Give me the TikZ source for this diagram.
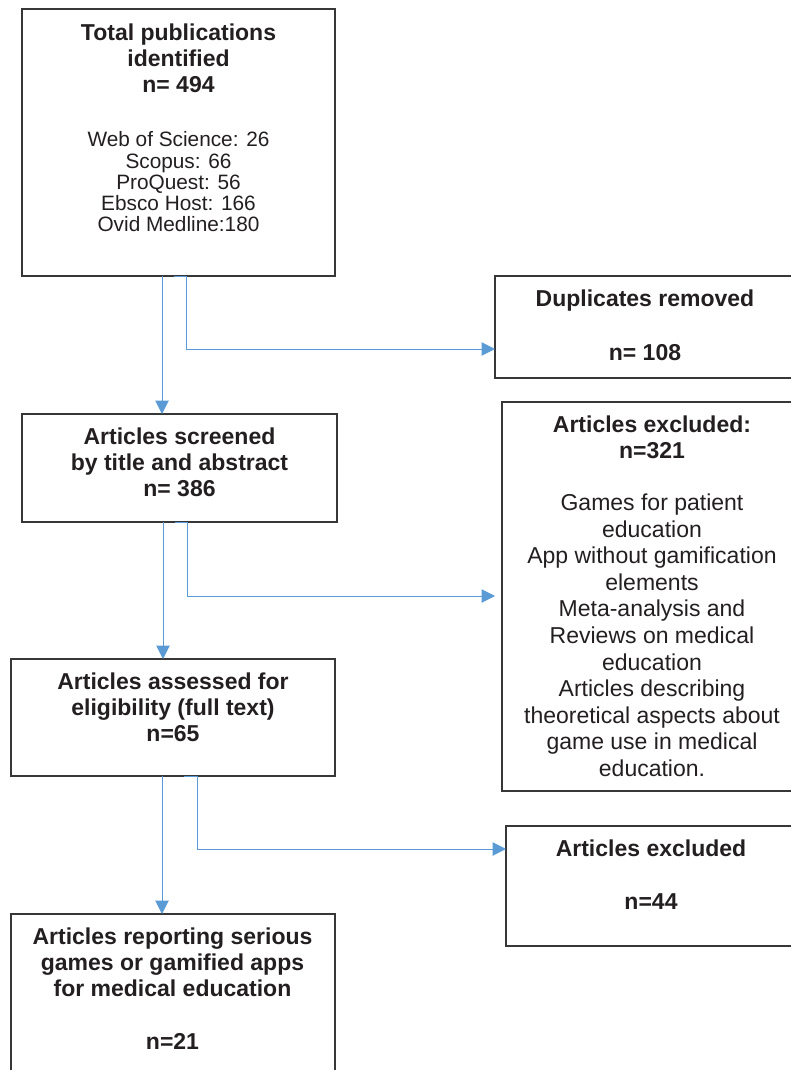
\documentclass[tikz,border=0pt]{standalone}
\usepackage{fontspec}
\setmainfont{Liberation Sans}
\usetikzlibrary{arrows.meta}
\definecolor{boxc}{RGB}{55,55,55}
\definecolor{txtc}{RGB}{35,31,32}
\definecolor{arrc}{RGB}{91,155,213}
\tikzset{
  box/.style={draw=boxc, line width=1.4pt, rectangle, inner sep=0pt, outer sep=0pt},
  btxt/.style={font=\fontsize{23}{26}\selectfont\bfseries, align=center, inner sep=0pt, text=txtc, anchor=north},
  rtxt/.style={font=\fontsize{20.8}{21.25}\selectfont, align=center, inner sep=0pt, text=txtc, anchor=north},
  rtxtl/.style={font=\fontsize{23}{26.6}\selectfont, align=center, inner sep=0pt, text=txtc, anchor=north},
  arr/.style={draw=arrc, line width=1pt, -{Triangle[length=13.5pt,width=13.5pt]}},
}
\begin{document}
\begin{tikzpicture}[x=1pt,y=-1pt]
\useasboundingbox (0,0) rectangle (790,1070);
% boxes
\node[box, minimum width=313pt, minimum height=267pt] (b1) at (178.5,142.5) {};
\node[box, minimum width=300pt, minimum height=102pt] (b2) at (645,327) {};
\node[box, minimum width=315pt, minimum height=108pt] (b3) at (179.5,468) {};
\node[box, minimum width=298pt, minimum height=389pt] (b4) at (651,596.5) {};
\node[box, minimum width=324pt, minimum height=117pt] (b5) at (173,717.5) {};
\node[box, minimum width=294pt, minimum height=120pt] (b6) at (653,886) {};
\node[box, minimum width=324pt, minimum height=166pt] (b7) at (173,997) {};
% texts
\node[btxt] (t1a) at (178.5,22) {\rule{0pt}{18pt}Total publications\\identified\\n= 494};
\node[rtxt] (t1b) at (178.5,130.7) {\rule{0pt}{16pt}Web of Science: 26\\Scopus: 66\\ProQuest: 56\\Ebsco Host: 166\\Ovid Medline:180};
\node[btxt] (t2a) at (645,288.7) {\rule{0pt}{18pt}Duplicates removed};
\node[btxt] (t2b) at (645,342) {\rule{0pt}{18pt}n= 108};
\node[btxt] (t3) at (179.5,426.3) {\rule{0pt}{18pt}Articles screened\\by title and abstract\\n= 386};
\node[btxt] (t4a) at (652,414.3) {\rule{0pt}{18pt}Articles excluded:\\n=321};
\node[rtxtl] (t4b) at (652,492.3) {\rule{0pt}{18pt}Games for patient\\education\\App without gamification\\elements\\Meta-analysis and\\Reviews on medical\\education\\Articles describing\\theoretical aspects about\\game use in medical\\education.};
\node[btxt] (t5) at (173,671) {\rule{0pt}{18pt}Articles assessed for\\eligibility (full text)\\n=65};
\node[btxt] (t6a) at (651,838) {\rule{0pt}{18pt}Articles excluded};
\node[btxt] (t6b) at (651,891.3) {\rule{0pt}{18pt}n=44};
\node[btxt] (t7a) at (172.5,926.3) {\rule{0pt}{18pt}Articles reporting serious\\games or gamified apps\\for medical education};
\node[btxt] (t7b) at (172.5,1031) {\rule{0pt}{18pt}n=21};
% connector guide coordinates
\coordinate (x1) at (162,0);
\coordinate (x1s) at (174,0);
\coordinate (x2) at (186,0);
\coordinate (y2) at (0,349);
\coordinate (x3) at (163,0);
\coordinate (x3s) at (175,0);
\coordinate (x4) at (187,0);
\coordinate (y4) at (0,596);
\coordinate (x5) at (162,0);
\coordinate (x5s) at (184,0);
\coordinate (x6) at (197,0);
\coordinate (y6) at (0,849);
% connectors
\draw[arr] (b1.south -| x1) -- (b3.north -| x1);
\draw[arr] (b1.south -| x1s) -- (b1.south -| x2) -- (x2 |- y2) -- (b2.west |- y2);
\draw[arr] (b3.south -| x3) -- (b5.north -| x3);
\draw[arr] (b3.south -| x3s) -- (b3.south -| x4) -- (x4 |- y4) -- (b2.west |- y4);
\draw[arr] (b5.south -| x5) -- (b7.north -| x5);
\draw[arr] (b5.south -| x5s) -- (b5.south -| x6) -- (x6 |- y6) -- (b6.west |- y6);
\end{tikzpicture}
\end{document}
